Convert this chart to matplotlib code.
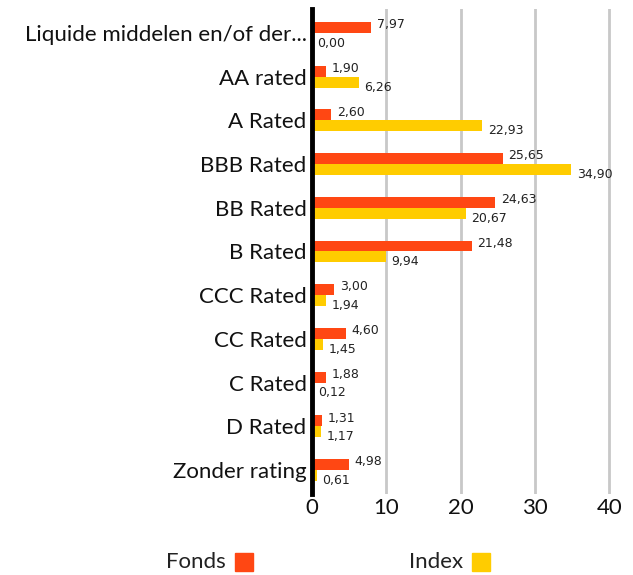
import matplotlib
matplotlib.use("Agg")
import matplotlib.pyplot as plt
import numpy as np

categories = ["Liquide middelen en/of der...", "AA rated", "A Rated", "BBB Rated",
              "BB Rated", "B Rated", "CCC Rated", "CC Rated", "C Rated", "D Rated",
              "Zonder rating"]
fonds = [7.97, 1.90, 2.60, 25.65, 24.63, 21.48, 3.00, 4.60, 1.88, 1.31, 4.98]
index = [0.00, 6.26, 22.93, 34.90, 20.67, 9.94, 1.94, 1.45, 0.12, 1.17, 0.61]
xticks = [0, 10, 20, 30, 40]

c_fonds = "#FF4713"
c_index = "#FFCC00"

plt.rcParams['font.family'] = ['Lato', 'DejaVu Sans']

fig = plt.figure(figsize=(6.33, 5.75), dpi=100)
ax = fig.add_axes([0.493, 1 - 494/575, 0.493, 485/575])

y = np.arange(len(categories))
h = 0.25
ax.barh(y - h/2, fonds, height=h, color=c_fonds, zorder=3)
ax.barh(y + h/2, index, height=h, color=c_index, zorder=3)

for yi, v in zip(y, fonds):
    ax.annotate(f"{v:.2f}".replace(".", ","), (v, yi - h/2), xytext=(4, 2),
                textcoords="offset points", ha="left", va="center", fontsize=9,
                color="#222222", family="DejaVu Sans")
for yi, v in zip(y, index):
    ax.annotate(f"{v:.2f}".replace(".", ","), (v, yi + h/2), xytext=(4, -3.5),
                textcoords="offset points", ha="left", va="center", fontsize=9,
                color="#222222", family="DejaVu Sans")

ax.set_xlim(0, 42)
ax.set_ylim(len(categories) - 1 + 0.55, -0.55)
ax.set_yticks(y)
ax.set_yticklabels(categories, fontsize=16, color="#111111")
ax.set_xticks(xticks)
ax.set_xticklabels([str(t) for t in xticks], fontsize=16, color="#111111")
ax.tick_params(axis="both", length=0)
ax.tick_params(axis="y", pad=4)
ax.tick_params(axis="x", pad=3)
for s in ["top", "right", "bottom"]:
    ax.spines[s].set_visible(False)
ax.spines["left"].set_linewidth(3.5)
ax.spines["left"].set_color("black")
ax.spines["left"].set_zorder(5)
for t in xticks[1:]:
    ax.axvline(t, color="#c8c8c8", lw=2, zorder=1)

# legend
fig.text(226/633, 1 - 562/575, "Fonds", ha="right", va="center", fontsize=16, color="#222222")
fig.patches.append(plt.Rectangle((235/633, 1 - 571/575), 18/633, 18/575,
                                 transform=fig.transFigure, color=c_fonds))
fig.text(463/633, 1 - 562/575, "Index", ha="right", va="center", fontsize=16, color="#222222")
fig.patches.append(plt.Rectangle((472/633, 1 - 571/575), 18/633, 18/575,
                                 transform=fig.transFigure, color=c_index))

fig.savefig("out.png", dpi=100)
